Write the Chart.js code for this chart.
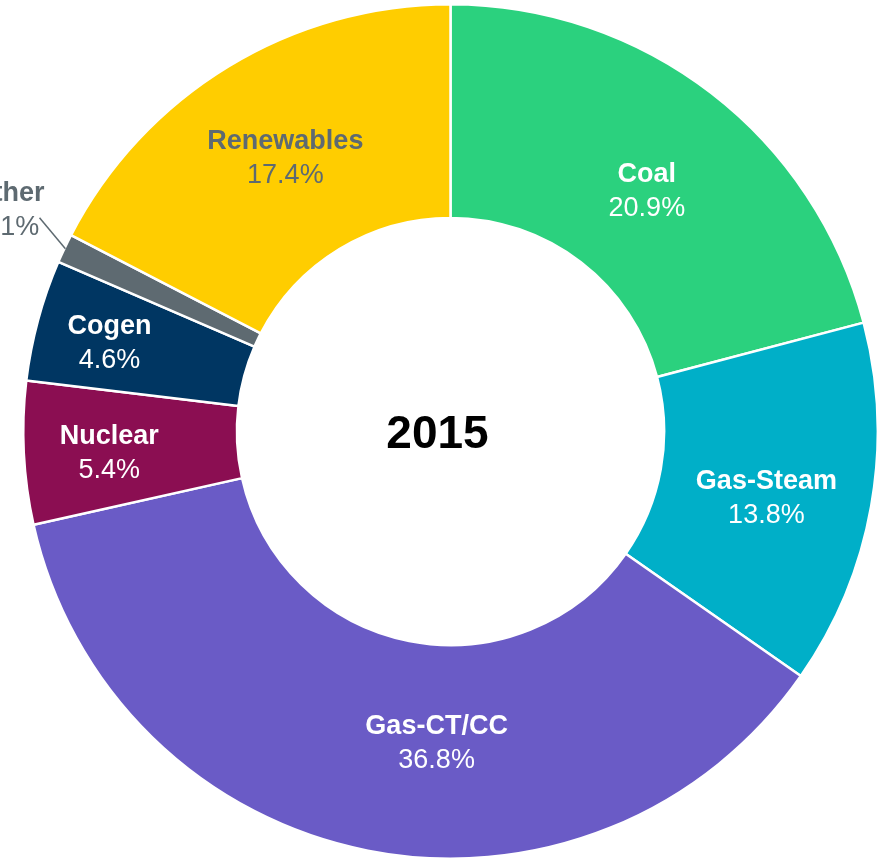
<!DOCTYPE html>
<html>
<head>
<meta charset="utf-8">
<script src="https://cdn.jsdelivr.net/npm/chart.js@4.4.1/dist/chart.umd.min.js"></script>
<style>
  html, body { margin: 0; padding: 0; background: #fff; overflow: hidden; }
  #wrap { width: 885px; height: 863px; position: relative; }
</style>
</head>
<body>
<div id="wrap"><canvas id="chart"></canvas></div>
<script>
const categories = ["Coal", "Gas-Steam", "Gas-CT/CC", "Nuclear", "Cogen", "Other", "Renewables"];
const shares = [20.9, 13.8, 36.8, 5.4, 4.6, 1.1, 17.4];
const colors = ["#2BD17E", "#00AFC8", "#6A5BC6", "#8B0E52", "#003662", "#5E6A71", "#FFCD00"];
const labelColors = ["#FFFFFF", "#FFFFFF", "#FFFFFF", "#FFFFFF", "#FFFFFF", "#5E6A71", "#5E6A71"];
const centerText = "2015";

// label placement tweaks: angle shift (deg, clockwise) and radial position (0 = inner, 1 = outer)
const labelPlace = {
  "Coal":       { da: 1.4,  t: 0.46 },
  "Gas-Steam":  { da: 1.6,  t: 0.51 },
  "Gas-CT/CC":  { da: -8.6, t: 0.455 },
  "Nuclear":    { da: -0.4, t: 0.60 },
  "Cogen":      { da: -0.4, t: 0.65 },
  "Renewables": { da: 0.3,  t: 0.50 },
  "Other":      { da: 1.2,  outside: true }
};

const FONT = "'Liberation Sans', Arial, sans-serif";

const sliceLabels = {
  id: "sliceLabels",
  afterDatasetsDraw(chart) {
    const ctx = chart.ctx;
    const arcs = chart.getDatasetMeta(0).data;
    ctx.save();
    ctx.textAlign = "center";
    ctx.textBaseline = "middle";
    arcs.forEach((arc, i) => {
      const p = arc.getProps(["x", "y", "startAngle", "endAngle", "innerRadius", "outerRadius"], true);
      const opt = labelPlace[categories[i]] || { da: 0, t: 0.5 };
      const mid = (p.startAngle + p.endAngle) / 2;
      const a = mid + opt.da * Math.PI / 180;
      let x, y;
      if (opt.outside) {
        const r0 = p.outerRadius - 1, r1 = p.outerRadius + 36;
        const a1 = mid + 2.1 * Math.PI / 180;
        ctx.strokeStyle = "#5E6A71";
        ctx.lineWidth = 1.5;
        ctx.beginPath();
        ctx.moveTo(p.x + r0 * Math.cos(mid), p.y + r0 * Math.sin(mid));
        ctx.lineTo(p.x + r1 * Math.cos(a1), p.y + r1 * Math.sin(a1));
        ctx.stroke();
        const rl = p.outerRadius + 67;
        x = p.x + rl * Math.cos(a);
        y = p.y + rl * Math.sin(a);
      } else {
        const r = p.innerRadius + (p.outerRadius - p.innerRadius) * opt.t;
        x = p.x + r * Math.cos(a);
        y = p.y + r * Math.sin(a) + 2;
      }
      ctx.fillStyle = labelColors[i];
      ctx.font = "bold 27px " + FONT;
      ctx.fillText(categories[i], x, y - 17);
      ctx.font = "27px " + FONT;
      ctx.fillText(shares[i].toFixed(1) + "%", x, y + 17);
    });
    // center title
    const c = arcs[0];
    ctx.fillStyle = "#000";
    ctx.font = "bold 46px " + FONT;
    ctx.fillText(centerText, c.x - 13, c.y + 4);
    ctx.restore();
  }
};

const chart = new Chart(document.getElementById("chart"), {
  type: "doughnut",
  data: {
    labels: categories,
    datasets: [{
      data: shares,
      backgroundColor: colors,
      borderColor: "#FFFFFF",
      borderWidth: 2.5,
      borderAlign: "center"
    }]
  },
  options: {
    responsive: true,
    maintainAspectRatio: false,
    animation: false,
    cutout: "50%",
    layout: { padding: { left: 22, right: 6, top: 2, bottom: 2 } },
    plugins: {
      legend: { display: false },
      tooltip: { enabled: false }
    }
  },
  plugins: [sliceLabels]
});
</script>
</body>
</html>
